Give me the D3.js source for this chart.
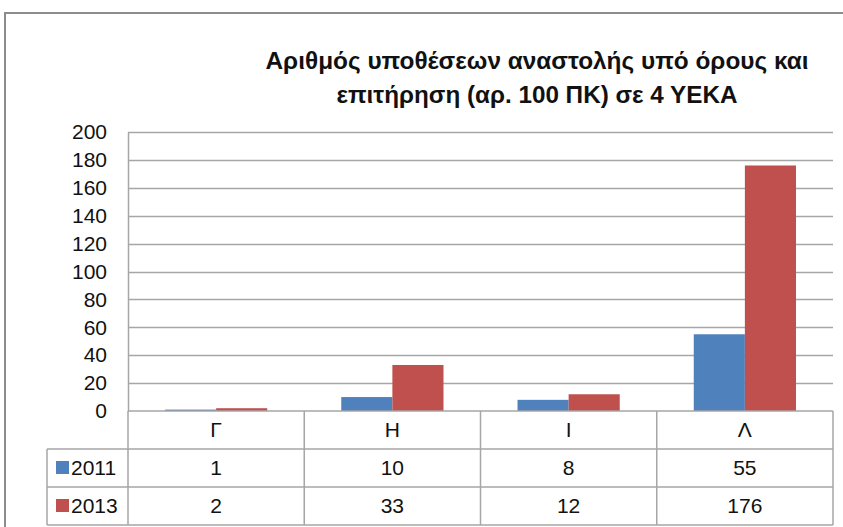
<!DOCTYPE html>
<html>
<head>
<meta charset="utf-8">
<script src="https://cdn.jsdelivr.net/npm/d3@7"></script>
<style>
html,body{margin:0;padding:0;background:#fff;}
svg{display:block;}
text{font-family:"Liberation Sans","Noto Sans",sans-serif;fill:#111;}
</style>
</head>
<body>
<svg id="chart" width="843" height="527"></svg>
<script>
const titleLines = ["Αριθμός υποθέσεων αναστολής υπό όρους και", "επιτήρηση (αρ. 100 ΠΚ) σε 4 ΥΕΚΑ"];
const categories = ["Γ", "Η", "Ι", "Λ"];
const seriesNames = ["2011", "2013"];
const values2011 = [1, 10, 8, 55];
const values2013 = [2, 33, 12, 176];
const yTicks = [0, 20, 40, 60, 80, 100, 120, 140, 160, 180, 200];
const colors = ["#4F81BD", "#C0504D"];

const series = [values2011, values2013];
const svg = d3.select("#chart");
const plot = {left: 128, right: 833, top: 132, bottom: 411};
const rowH = 38;
const legendLeft = 47;
const gridColor = "#a6a6a6";
const fs = 21;

// outer frame
svg.append("rect").attr("x", 5).attr("y", 13).attr("width", 850).attr("height", 530)
  .attr("fill", "none").attr("stroke", "#8c8c8c").attr("stroke-width", 2);

// title
const titleWidths = [543, 401];
titleLines.forEach((t, i) => {
  svg.append("text").attr("text-anchor", "middle")
    .attr("font-size", 23.5).attr("font-weight", "bold")
    .attr("x", 537).attr("y", 69 + i * 34)
    .attr("textLength", titleWidths[i]).attr("lengthAdjust", "spacingAndGlyphs")
    .text(t);
});

const x = d3.scaleBand().domain(categories).range([plot.left, plot.right]).padding(0);
const y = d3.scaleLinear().domain([0, 200]).range([plot.bottom, plot.top]);
const groupW = x.bandwidth() * 0.58;
const xs = d3.scaleBand().domain(seriesNames)
  .range([(x.bandwidth() - groupW) / 2, (x.bandwidth() + groupW) / 2]).padding(0);

// gridlines
svg.append("g").selectAll("line").data(yTicks.filter(d => d > 0)).join("line")
  .attr("x1", plot.left).attr("x2", plot.right)
  .attr("y1", d => Math.round(y(d)) + 0.5).attr("y2", d => Math.round(y(d)) + 0.5)
  .attr("stroke", gridColor).attr("stroke-width", 1.5);

// y axis
const yAxis = d3.axisLeft(y).tickValues(yTicks).tickSize(0).tickPadding(21);
const ya = svg.append("g").attr("transform", `translate(${plot.left},0)`).call(yAxis);
ya.select(".domain").attr("stroke", gridColor).attr("stroke-width", 1.5);
ya.selectAll("text").attr("font-size", fs).attr("fill", "#111")
  .style("font-family", '"Liberation Sans","Noto Sans",sans-serif');

// bars
seriesNames.forEach((s, si) => {
  svg.append("g").selectAll("rect").data(categories).join("rect")
    .attr("x", c => x(c) + xs(s))
    .attr("width", xs.bandwidth())
    .attr("y", (c, i) => y(series[si][i]))
    .attr("height", (c, i) => y(0) - y(series[si][i]))
    .attr("fill", colors[si]);
});

// data table
const tg = svg.append("g");
const ln = (x1, y1, x2, y2) => tg.append("line").attr("x1", x1).attr("y1", y1).attr("x2", x2).attr("y2", y2)
  .attr("stroke", gridColor).attr("stroke-width", 1.5);
ln(plot.left, plot.bottom, plot.right, plot.bottom);
ln(plot.left, plot.bottom, plot.left, plot.bottom + 3 * rowH);
ln(legendLeft, plot.bottom + rowH, plot.right, plot.bottom + rowH);
ln(legendLeft, plot.bottom + 2 * rowH, plot.right, plot.bottom + 2 * rowH);
ln(legendLeft, plot.bottom + 3 * rowH, plot.right, plot.bottom + 3 * rowH);
ln(legendLeft, plot.bottom + rowH, legendLeft, plot.bottom + 3 * rowH);
categories.forEach(c => ln(x(c) + x.bandwidth(), plot.bottom, x(c) + x.bandwidth(), plot.bottom + 3 * rowH));

tg.selectAll("text.cat").data(categories).join("text").attr("class", "cat")
  .attr("x", c => x(c) + x.bandwidth() / 2).attr("y", plot.bottom + rowH / 2 + 7)
  .attr("text-anchor", "middle").attr("font-size", fs).text(c => c);

seriesNames.forEach((s, si) => {
  const ry = plot.bottom + (si + 1) * rowH;
  tg.append("rect").attr("x", 56).attr("y", ry + rowH / 2 - 7).attr("width", 13).attr("height", 13).attr("fill", colors[si]);
  tg.append("text").attr("x", 71).attr("y", ry + rowH / 2 + 7).attr("font-size", fs).text(s);
  tg.append("g").selectAll("text").data(categories).join("text")
    .attr("x", c => x(c) + x.bandwidth() / 2).attr("y", ry + rowH / 2 + 7)
    .attr("text-anchor", "middle").attr("font-size", fs)
    .text((c, i) => series[si][i]);
});
</script>
</body>
</html>
